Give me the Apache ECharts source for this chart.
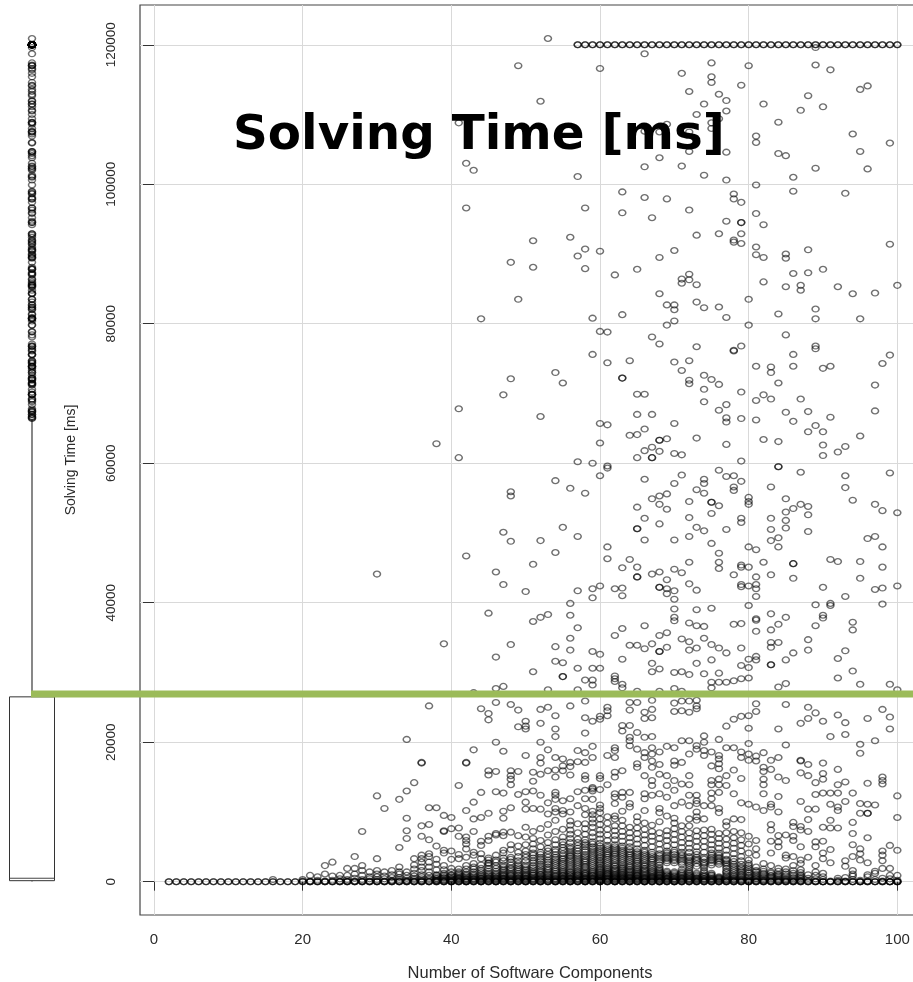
<!DOCTYPE html>
<html>
<head>
<meta charset="utf-8">
<style>
html,body{margin:0;padding:0;background:#fff;overflow:hidden;}
#chart{width:913px;height:982px;}
</style>
<script src="https://cdn.jsdelivr.net/npm/echarts@6/dist/echarts.min.js"></script>
</head>
<body>
<div id="chart"></div>
<script>
// all rows: [components, time, time, ...] with times in thousands of ms
var xTicks = [0,20,40,60,80,100];
var yTicks = [0,20000,40000,60000,80000,100000,120000];

// runs that hit the 120 s limit
var cappedX = [57,58,59,60,61,62,63,64,65,66,67,68,69,70,71,72,73,74,75,76,77,78,79,80,81,82,83,84,85,86,87,88,89,90,91,92,93,94,95,96,97,98,99,100];
// row of circles on the zero line
var zeroX = [2,3,4,5,6,7,8,9,10,11,12,13,14,15,16,17,18,19,20,21,22,23,24,25,26,27,28,29,30,31,32,33,34,35,36,37,38,39,40,41,42,43,44,45,46,47,48,49,50,51,52,53,54,55,56,57,58,59,60,61,62,63,64,65,66,67,68,69,70,71,72,73,74,75,76,77,78,79,80,81,82,83,84,85,86,87,88,89,90,91,92,93,94,95,96,97,98,99,100];

var upperRows = [
[53,120.9],[49,117],[60,116.6],[66,118.7],[52,111.9],[71,115.9],[75,117.4,115.4,114.6,108.8,108],[80,117],[72,113.3,107.5,104.7,96.3,87.1,86.3],
[76,112.9,109.4,92.9,82.4],[77,112,110.5,104.6,100.6,94.7,80.9],[79,114.2,97.4,94.5,94.5,92.9,91.5,76.8],[74,111.5,101.3,82.3],[73,110,92.7,85.6,83.1,76.7],
[89,119.6,117.1,102.3,82.1,80.7,76.8,76.4],[91,116.4],[95,113.6,104.7,80.7],[96,114.1,102.2],[88,112.7,90.6,87.3],[87,110.6,85.5,84.8],[90,111.1,87.8],
[82,111.5,94.2,89.5,86],[84,108.9,104.4,81.4],[81,106.9,106,99.9,95.8,91,89.9],[94,107.2,84.3],[99,105.9,91.4],[85,104.1,90,89.4,85.3,78.4],
[69,108.6,97.9,82.7,79.8],[68,107.5,103.8,89.5,84.3,77.1],[66,107.6,102.5,98.1],[71,102.6,86.4,85.8],[57,101.1,89.7],[86,101,99,87.2],[93,98.7],
[63,98.9,95.9,81.3],[78,98.6,97.9,92,91.7,76.2],[58,96.6,90.7,87.9],[67,95.2,78.1],[56,92.4],[51,91.9,88.1],[60,90.4,78.9],[48,88.8],[70,90.5,82.7,82,80.4],
[62,87],[65,87.8],[92,85.3],[97,84.4],[100,85.5],[49,83.5],[80,83.5,79.8],[59,80.8],[61,78.8],[44,80.7],[42,103,96.6],[43,102],[41,108.8]
];

var midRows = [
[59,75.6,60],[61,74.4,65.5],[64,74.7,64],[70,74.5,65.7,61.4],[72,74.7,71.9,71.4],[78,76.1,58.2,56.6,56.1],[86,75.6,73.9,66],[99,75.5,58.6],[98,74.3],
[81,73.9,69,66.2],[83,73.8,73,69.2],[90,73.6,64.5,62.6,61.1],[91,73.9,66.6],[84,71.5,63.1,59.5],[97,71.2,67.5],[54,73,57.5],[48,72.1,55.9,55.3],[55,71.5],
[63,72.2,72.2],[71,73.3,61.2,58.3],[74,72.6,70.6,68.8,57.7,57.1],[75,72],[76,71.3,67.6,59],[47,69.8,50.1],[65,69.9,67,64.1,60.8,53.7,50.6,50.6],[66,69.9,64.9,61.8,57.7,52.1],
[79,70.2,66.4,60.3,57.4,52.1,51.5],[82,69.8,63.4],[87,69.2,58.7,54.1],[77,68.4,66.5,65.9,62.7,58.1,50.5],[85,67.3,54.9,53,51.8,50.7],[88,67.4,64.5,53.8,52.6,50.2],
[41,67.8,60.8],[52,66.7],[67,67,62.3,60.8,60.8,54.9],[60,65.7,62.9,58.2],[89,65.4],[95,63.9],[68,63.3,63.3,61.7,55.3,54.1,51.3],[69,63.5,55.6,53.4],[73,63.6,56.2,50.8],
[38,62.8],[93,62.4,58.2,56.5],[92,61.6],[57,60.2],[61,59.6,59.3],[84,59.5],[70,57.1],[56,56.4],[58,55.7],[83,56.6,52.1,50.5],[80,55.1,54.5,54.1],[94,54.7],[72,54.5,52.2],
[75,54.4,54.4,52.8],[76,53.9],[86,53.5],[97,54.1],[98,53.2],[100,52.9],[74,55.7,50.3],[55,50.8]
];

var lowerRows = [
[48,48.8,34],[52,48.9,37.9],[57,49.5,41.7,36.4,30.6,27.5],[72,49.5,45.8,42.7,37.1,34.4,33.2,29.7],[66,49,36.7,33.4],[70,49,44.8,41.7,40.5,39.1,37.9,37.4,30,27.7],
[84,49.3,48,36.9,34.3,27.9],[83,48.9,44,38.4,36.1,34.3,33.6,31.1,31.1],[96,49.2],[97,49.5,41.9],[75,48.5,39.2,34,31.8,28.6,27.8],[98,48,45.1,42.1,39.8],[61,48,46.3],
[80,48,45.1,42.4,39.6,31.9,30.7,29.2],[81,47.6,43.7,42.6,42,40.9,37.7,37.5,35.9,32.3,31.8],[54,47.2,33.7,31.6],[76,47.1,45.8,44.9,33.5,29.9,28.6],[42,46.7],[64,46.2,33.9],
[91,46.2,39.9,39.6],[92,45.9,32,29.2],[95,45.9,43.5,28.3],[79,45.4,45.1,42.6,42.3,37,33.5,31,29.1],[82,45.8],[86,45.6,45.6,43.5,32.8],[51,45.5,37.3,30.1],[63,45,42.1,41,36.3,31.9,28.3,27.8],
[65,45.1,43.7,43.7,33.9,27.3],[71,44.3,34.8,30.1,27.3],[68,44.4,42.2,42.2,35.3,33,33,30.5,27.3],[67,44.1,34.1,31.3,30.1],[30,44.1],[46,44.4,32.2,27.7],[78,44,36.9,28.8],[69,43.3,42,41.3,35.7,33.6],
[47,42.6,28],[60,42.4,32.6,30.6],[59,42,40.7,33,30.6,28.9,28.2],[90,42.2,38.2,37.8],[100,42.4,27.5],[62,42,35.3,29.5,29.1,28.7],[73,41.8,39,36.7,33.5,31.3],[50,41.6],[93,40.9,33.1],
[56,39.9,38.2,34.9,33.2],[89,39.7,36.7],[45,38.5],[53,38.3,27.5],[85,37.9,31.8,28.4],[94,37.2,36.1,30.2],[74,36.6,34.9,29.8],[39,34.1],[88,34.7,33.2],[77,32.8,28.6],
[55,31.4,29.4,29.4],[58,28.9],[99,28.3],[43,27.1]
];

var lowColumns20to49 = [
[16,.3],[20,.1,.3],[21,0,.1,.9],[22,0,.2,.7],[23,0,.1,1.1,2.3],[24,0,.2,.8,2.8],[25,0,.1,.4,.9],[26,0,.1,.3,.9,1.9],[27,0,.1,.5,1.1,1.9,3.6],[28,0,.1,.3,.9,1.6,2.3,7.2],[29,0,.1,.4,.7,1.4],
[30,0,.1,.3,.7,1.1,1.6,3.3,12.3],[31,0,.1,.4,.8,1.4,10.5],[32,0,.1,.2,.6,1,1.6],[33,0,.1,.3,.6,1.1,1.4,2.1,4.9,11.8],[34,0,.1,.2,.5,.9,1.4,6.2,7.3,9.1,13,20.4],[35,0,.1,.3,.5,.8,1.2,1.8,2.4,3.3,14.2],
[36,0,.1,.2,.4,.7,1,1.6,2.1,2.8,3.3,3.8,6.5,8,17,17.1],[37,0,.1,.3,.5,.9,1.4,2.1,2.8,3.6,4,6,8.2,10.6,25.2],[38,0,.1,.2,.4,.7,1,1.7,2.5,3.2,5.1,10.6],[39,0,.1,.3,.5,.8,1.2,2.3,4.1,4.5,7.2,7.3,9.5],
[40,0,0,.1,.2,.4,.7,1,1.9,3.2,4.4,7.6,9.2],[41,0,.1,.2,.4,.6,1,1.4,3.3,3.9,6.5,7.7,13.8],[42,0,0,.1,.3,.5,.9,1.4,2.3,3.5,4.7,5.4,5.9,6.4,10.2,17,17.1],[43,0,.1,.2,.4,.7,1.1,1.8,2.6,3.8,4.2,7.2,9,11.4,18.9],
[44,0,0,.1,.3,.5,.8,1.3,1.9,3.3,4,5.2,5.8,9.2,12.8,24.8],[45,0,.1,.2,.4,.6,1,1.5,2.3,2.6,2.7,3.1,5.9,6.5,9.8,15.3,15.9,23.2,24.1],[46,0,0,.1,.3,.5,.8,1.2,1.9,2.8,3.8,6.7,6.9,12.9,15.8,20,25.7],
[47,0,.1,.2,.4,.6,.9,1.3,1.8,2.4,3,4.1,4.5,6.6,7.1,9.1,10.1,12.7,18.7],[48,0,0,.1,.2,.4,.7,1,1.5,2,2.8,3.5,4.6,5.3,7.1,10.6,13.9,14.7,15.2,15.9,25.4],[49,0,.1,.3,.5,.8,1.2,1.7,2.3,3,4.2,5.1,6.6,12.5,15.8,22.2,24.6]
];

var lowColumns50to69 = [
[50,0,0,.1,.2,.4,.6,.9,1.3,1.8,2.4,3.5,4.4,5.3,6.4,7.8,10.4,11.4,12.9,18.1,21.9,22.3,23],
[51,0,.1,.2,.4,.7,1,1.4,2,2.7,3.4,4.1,4.7,5.4,6.2,7.2,10.5,13,14.4,15.7],
[52,0,0,.1,.3,.5,.8,1.1,1.6,2.2,2.9,3.5,4.2,5,5.9,7.6,10.4,12.4,15.4,17,17.8,20,22.7,24.7],
[53,0,.1,.2,.3,.6,.9,1.3,1.8,2.5,3.1,3.9,4.8,5.6,6.7,8.2,9.7,11.3,15.9,18.9,25],
[54,0,0,.1,.2,.4,.7,1,1.5,2,2.6,3.2,3.9,4.6,5.3,6,7.2,8.8,10,10.5,11.8,12.4,12.8,15,16,17.8,20.8,21.9,23.8],
[55,0,.1,.2,.4,.6,.9,1.3,1.7,2.3,2.9,3.4,4,4.9,5.7,6.4,7.5,9.7,10.2,11.6,15.9,16.6,17.6],
[56,0,0,.1,.3,.5,.8,1.1,1.5,2.1,2.7,3.3,3.8,4.4,5,5.6,6.2,6.8,7.4,8.1,8.7,10,11.9,15.3,16.5,17.1,25.2],
[57,0,.1,.2,.4,.7,1,1.4,1.9,2.5,3.1,3.7,4.4,5.2,6.1,7,8.3,10.9,12.9,17.2,18.8],
[58,0,0,.1,.2,.4,.6,.9,1.2,1.7,2.2,2.8,3.3,3.9,4.6,5.3,6,6.8,7.6,8.3,9.6,10.5,11.9,13.1,14.7,15.2,17.1,18.5,21.3,23.5,25.9],
[59,0,.1,.2,.3,.5,.8,1.1,1.5,2,2.6,3.2,3.8,4.4,5,5.7,6.4,7,7.8,8.4,9,9.6,10.1,11.8,13,13.3,13.5,17.8,19.4,23],
[60,0,0,.1,.2,.3,.5,.7,1,1.3,1.7,2.1,2.6,3.1,3.6,4.2,4.8,5.5,6.1,6.8,7.4,8.2,9,9.9,10.5,11,13.2,14.8,15.2,23.3,23.7],
[61,0,.1,.2,.3,.5,.8,1.1,1.4,1.8,2.3,2.9,3.5,4,4.6,5.2,5.9,6.7,7.5,8.4,9.3,13.9,18.1,23.8,24.5,25],
[62,0,0,.1,.2,.4,.6,.8,1.1,1.5,1.9,2.4,3,3.6,4.1,4.7,5.3,6,6.6,7.3,8,9,9.4,11.2,12.1,12.6,15,15.7,17.8,18.8,19.2],
[63,0,.1,.2,.3,.5,.7,1,1.3,1.7,2.1,2.7,3.3,3.9,4.5,5.1,5.8,6.5,7.2,8,8.8,10.1,12.1,12.8,15.9,21.6,22.4],
[64,0,0,.1,.2,.4,.6,.9,1.2,1.6,2.1,2.6,3.2,3.8,4.3,5,5.6,6.3,7,7.8,10.7,11.2,12.8,19.5,20.2,20.7,22.4,24.6,25.7],
[65,0,.1,.2,.3,.5,.8,1,1.4,1.8,2.3,2.9,3.4,4,4.7,5.4,6.1,6.9,7.7,8.6,9.3,16.4,16.9,19,21.4,25.7],
[66,0,0,.1,.2,.4,.6,.9,1.3,1.7,2.2,2.7,3.3,3.9,4.5,5.2,6,6.7,7.5,8.4,10.2,11.9,12.6,15.2,17.8,18.5,20.7,23.4,24.3],
[67,0,.1,.2,.3,.5,.7,1,1.4,1.9,2.5,3.1,3.6,4.2,5,5.8,6.5,7.2,8.1,12.4,13.8,14.5,16.4,17.3,18.3,19.2,20.8,23.5,24.7,26],
[68,0,0,.1,.2,.4,.6,.9,1.2,1.6,2,2.8,3.4,4,4.6,5.4,6.2,7,8.6,9.9,10.5,12.6,15.4,16.8,18.6],
[69,0,.1,.3,.5,.8,1.1,1.5,2.7,3.3,3.8,4.4,5.1,5.9,6.6,7.3,9.4,12.1,13.8,15.2,19.4]
];

var lowColumns70to100 = [
[70,0,0,.1,.2,.4,.7,1,1.4,2.7,3.2,3.9,4.5,5.3,6,6.8,7.6,8.4,9.1,10.9,13.1,14.5,16.7,17.3,19.2,24.4,25.6],
[71,0,.1,.3,.5,.8,1.2,1.7,2.5,3.1,3.7,4.2,4.9,5.6,6.4,7.2,8,11.4,14,17.1,20.2,24.5,25.9],
[72,0,.1,.2,.4,.7,1,1.4,2,2.6,3.1,3.6,4.2,4.8,5.5,6.2,7,8,9,10.9,12.4,13.9,15.2,18.3,20.2,24.3,25.9],
[73,0,.1,.3,.5,.8,1.2,2.2,3,3.5,4.3,5,5.8,6.5,7.3,8.8,9.3,10,11.2,11.6,12.4,19,19.5,24.8,25.2,26],
[74,0,.1,.2,.5,.7,1,1.6,2.3,2.8,3.5,4.2,5,5.8,6.6,7.4,9,10.9,18.1,18.8,20,20.9],
[75,0,.1,.3,.5,.9,1.2,2.4,3,3.5,4.1,4.6,5.3,6,6.8,7.5,10.9,11.9,12.7,13.9,14.5,16.6,18.6],
[76,0,.1,.2,.4,.7,2.5,3,3.5,4.1,4.8,5.5,6.2,6.9,9.9,10.5,12.8,13.9,14.7,16.2,16.9,17.6,18.1,20.4],
[77,0,.1,.3,.6,1,1.5,2.2,2.7,3.2,3.8,4.5,5.3,6.1,7,8,8.6,13.8,15.2,19.2,22.3],
[78,0,.1,.2,.4,.8,1.3,1.9,2.5,3.3,4,4.8,5.5,6.3,7.2,9,12.6,16,19.2,23.3],
[79,0,.1,.3,.7,1.1,1.6,2.1,3,3.6,4.4,5.2,6,7,8.9,11.3,14.8,17.8,18.6,23.7],
[80,0,0,.2,.5,.9,1.4,2,2.6,3.1,4.1,5.4,6.5,11.1,17.4,18.3,19.8,22,23.8],
[81,0,.1,.4,.7,1.1,1.6,2.1,3.8,4.7,5.9,10.7,17.3,18,24.4,25.5],
[82,0,.1,.3,.7,1.2,1.8,2.6,10.2,12.6,13.9,14.7,15.8,16.4,18.5],
[83,0,.2,.6,.9,1.4,2.3,4.1,5.8,7.4,8.2,10.7,11.1,16.1,17.4],
[84,0,.1,.3,.7,1.1,1.9,5,5.7,6.6,10,12.2,15,17.8,21.9],
[85,0,.2,.5,1.1,1.8,3.4,3.8,6.7,14.5,19.6,25.4],
[86,0,.1,.4,.9,1.6,2.3,3.6,5.9,6.5,7.9,8.5],
[87,0,.2,.6,1,1.7,2.6,3.1,5,7.4,7.9,11.5,15.6,17.3,17.4,22.7],
[88,0,.2,.5,1,3.5,7.2,8.9,10.4,15.2,16.8,23.4,25],
[89,0,.1,.4,.9,1.4,2.3,5,5.7,10.4,12.5,14.2,24.2],
[90,0,0,.3,.7,1.2,3.3,4.1,5.8,7.8,12.7,14.7,15.5,17,23],
[91,0,.1,2.7,4.6,7.7,8.8,11.1,12.7,20.8],
[92,0,.2,.5,7.7,10.2,10.7,12.7,13.9,16.1,23.9],
[93,0,.1,.6,2.2,3,11.5,14.3,21.1,22.8],
[94,0,.3,.8,1.1,1.6,3.6,5.3,6.9,8.5,12.7],
[95,0,0,.2,3.1,4,4.7,9.8,11.2,18.4,19.7],
[96,0,.1,.7,1,2.7,6.3,9.8,9.8,11.1,14.1,23.4],
[97,0,.3,1.2,1.5,11,20.2],
[98,0,.1,.5,1.9,3,3.8,4.4,14,14.5,15,24.7],
[99,0,0,.4,.9,1.9,5.2,21.9,23.6],
[100,0,0,.2,.9,4.5,9.2,12.3]
];

// the near-black band just above the zero line
var denseBandRows = [
[38,.2,.5,.9],[39,.2,.6,1,1.7],[40,.3,.5,.9,1.4],[41,.3,.5,.8,1.2,1.8],[42,.2,.4,.7,1.1,1.8],[43,.3,.5,.9,1.4,2.1],[44,.2,.4,.6,1,1.6,2.4],[45,.3,.5,.8,1.2,1.9,3.4],
[46,.2,.4,.6,1,1.5,2.3,3.1],[47,.3,.5,.8,1.1,1.6,2.1,3.4],[48,.3,.5,.9,1.2,1.8,2.4,3.2],[49,.2,.4,.6,1,1.5,2,2.6,3.6],[50,.3,.5,.8,1.1,1.6,2.1,3,3.9],[51,.3,.5,.9,1.2,1.7,2.3,3,3.8],
[52,.2,.4,.6,1,1.4,1.9,2.5,3.2,3.9],[53,.4,.7,1.1,1.6,2.1,2.8,3.5,4.4],[54,.3,.5,.8,1.2,1.7,2.3,2.9,3.5,4.3],[55,.3,.5,.8,1.1,1.5,2,2.6,3.2,3.7,4.5,5.3],[56,.2,.4,.6,.9,1.3,1.8,2.4,3,3.6,4.1,4.7],
[57,.3,.5,.9,1.2,1.6,2.2,2.8,3.4,4,4.8,5.6],[58,.3,.5,.8,1.1,1.4,2,2.5,3,3.6,4.3,5,5.6],[59,.4,.6,.9,1.3,1.7,2.3,2.9,3.5,4.1,4.7,5.4],[60,.2,.4,.6,.8,1.1,1.5,1.9,2.4,2.9,3.4,3.9,4.5,5.1],
[61,.4,.6,.9,1.2,1.6,2,2.6,3.2,3.8,4.3,4.9],[62,.3,.5,.7,1,1.3,1.7,2.2,2.7,3.3,3.9,4.4,5],[63,.4,.6,.8,1.1,1.5,1.9,2.4,3,3.6,4.2,4.8],[64,.3,.5,.7,1,1.4,1.8,2.3,2.9,3.5,4,4.6],
[65,.4,.6,.9,1.2,1.6,2,2.6,3.1,3.7,4.3],[66,.3,.5,.7,1.1,1.5,1.9,2.4,3,3.6,4.2],[67,.4,.6,.8,1.2,1.6,2.2,2.8,3.3,3.9],[68,.3,.5,.7,1,1.4,1.8,2.4,3.1,3.7],[69,.2,.4,.6,.9,1.3,3,3.5,4.1],
[70,.3,.5,.8,1.2,3,3.5,4.2],[71,.2,.4,.6,1,1.4,2.8,3.4,3.9],[72,.3,.5,.8,1.2,1.7,2.3,2.9,3.4],[73,.2,.4,.6,1,2.6,3.2,3.9],[74,.3,.4,.8,1.3,2,2.6,3.2],[75,.2,.4,.7,1,2.7,3.2,3.8],
[76,.3,.5,.6,2.8,3.3,3.8],[77,.2,.4,.8,1.3,1.9,2.5,3],[78,.3,.6,1,1.6,2.2,2.9],[79,.2,.5,.9,1.4,1.9,2.5],[80,.1,.3,.7,1.2,1.7,2.3],[81,.2,.5,.9,1.4],[82,.2,.5,1,1.5],[83,.1,.4,.8,1.2],
[84,.2,.5,.9,1.5],[85,.1,.3,.8,1.4],[86,.2,.6,1.2],[87,.1,.4,.8,1.3]
];

// box of the marginal plot, in thousands of ms
var boxLow = 0, boxQ1 = 0.14, boxMedian = 0.49, boxQ3 = 26.5, boxHigh = 66.3;
var thresholdTime = 26900;

var points = [];
var outliers = [];
function addPoint(x,t){
	points.push([x,t*1000]);
	if(t>boxHigh){
		outliers.push([0.5,t*1000]);
	}
}
function addRows(rows){
	for (var i = 0; i < rows.length; i++) {
		for (var j = 1; j < rows[i].length; j++) {
			addPoint(rows[i][0],rows[i][j]);
		}
	}
}
for (var i = 0; i < cappedX.length; i++) { addPoint(cappedX[i],120); addPoint(cappedX[i],120); }
for (var i = 0; i < zeroX.length; i++) { addPoint(zeroX[i],0); addPoint(zeroX[i],0); }
addRows(upperRows);
addRows(midRows);
addRows(lowerRows);
addRows(lowColumns20to49);
addRows(lowColumns50to69);
addRows(lowColumns70to100);
addRows(denseBandRows);

var yMin = -4780, yMax = 125700;
var font = "'Liberation Sans'";
var textColor = "#2b2b2b";
var ringStyle = {
	color: "rgba(0,0,0,0)",
	borderColor: "rgba(0,0,0,0.7)",
	borderWidth: 1.4
};
var ringSize = [7,5.8];
var gridBox = {top:5,height:910};

function hiddenX(i){
	return {gridIndex:i,type:"value",min:0,max:1,show:false};
}
function hiddenY(i){
	return {gridIndex:i,type:"value",min:yMin,max:yMax,show:false};
}
function plainNumber(v){
	return String(v);
}

var myChart = echarts.init(document.getElementById("chart"));
var option = {
	animation: false,
	backgroundColor: "#fff",
	title: {
		text: "Solving Time [ms]",
		left: 228,
		top: 107,
		z: 20,
		textStyle: {fontFamily:"'DejaVu Sans'",fontWeight:"bold",fontSize:48.4,color:"#000"}
	},
	grid: [
		{left:140,top:gridBox.top,width:780,height:gridBox.height,outerBoundsMode:"none",show:true,borderColor:"#444",borderWidth:1.2,backgroundColor:"#fff"},
		{left:9.5,top:gridBox.top,width:45,height:gridBox.height,outerBoundsMode:"none"},
		{left:31,top:gridBox.top,width:882,height:gridBox.height,outerBoundsMode:"none"}
	],
	xAxis: [
		{
			gridIndex: 0,
			type: "value",
			min: -1.883,
			max: 103.05,
			name: "Number of Software Components",
			nameLocation: "middle",
			nameGap: 50,
			nameMoveOverlap: false,
			nameTextStyle: {fontFamily:font,fontSize:16.5,color:textColor},
			axisLine: {show:false},
			axisTick: {length:9,customValues:xTicks,lineStyle:{color:"#333"}},
			axisLabel: {customValues:xTicks,fontFamily:font,fontSize:15,color:textColor,margin:17,formatter:plainNumber},
			splitLine: {show:true,lineStyle:{color:"#d9d9d9",width:1}}
		},
		hiddenX(1),
		hiddenX(2)
	],
	yAxis: [
		{
			gridIndex: 0,
			type: "value",
			min: yMin,
			max: yMax,
			name: "Solving Time [ms]",
			nameLocation: "middle",
			nameGap: 62,
			nameMoveOverlap: false,
			nameRotate: 90,
			nameTextStyle: {fontFamily:font,fontSize:14,color:textColor},
			axisLine: {show:false},
			axisTick: {length:11,customValues:yTicks,lineStyle:{color:"#333"}},
			axisLabel: {customValues:yTicks,rotate:90,fontFamily:font,fontSize:13.5,color:textColor,margin:22,formatter:plainNumber},
			splitLine: {show:true,lineStyle:{color:"#d9d9d9",width:1}}
		},
		hiddenY(1),
		hiddenY(2)
	],
	series: [
		{
			type: "scatter",
			xAxisIndex: 0,
			yAxisIndex: 0,
			data: points,
			symbol: "circle",
			symbolSize: ringSize,
			itemStyle: ringStyle,
			progressive: 0,
			silent: true,
			z: 2
		},
		{
			type: "scatter",
			xAxisIndex: 1,
			yAxisIndex: 1,
			data: outliers,
			symbol: "circle",
			symbolSize: ringSize,
			itemStyle: ringStyle,
			progressive: 0,
			silent: true,
			z: 2
		},
		{
			type: "custom",
			xAxisIndex: 1,
			yAxisIndex: 1,
			data: [[0.5,boxLow*1000,boxQ1*1000,boxMedian*1000,boxQ3*1000,boxHigh*1000]],
			encode: {x:0,y:[1,2,3,4,5]},
			silent: true,
			z: 2,
			renderItem: function(params,api){
				var left = api.coord([0,api.value(3)])[0];
				var right = api.coord([1,api.value(3)])[0];
				var mid = api.coord([api.value(0),0])[0];
				var yLow = api.coord([0,api.value(1)])[1];
				var yQ1 = api.coord([0,api.value(2)])[1];
				var yMed = api.coord([0,api.value(3)])[1];
				var yQ3 = api.coord([0,api.value(4)])[1];
				var yHigh = api.coord([0,api.value(5)])[1];
				return {
					type: "group",
					children: [
						{type:"line",shape:{x1:mid,y1:yQ3,x2:mid,y2:yHigh},style:{stroke:"#555",lineWidth:1.4}},
						{type:"line",shape:{x1:mid,y1:yQ1,x2:mid,y2:yLow},style:{stroke:"#555",lineWidth:1}},
						{type:"rect",shape:{x:left,y:yQ3,width:right-left,height:yQ1-yQ3},style:{fill:"none",stroke:"#333",lineWidth:1}},
						{type:"line",shape:{x1:left,y1:yMed,x2:right,y2:yMed},style:{stroke:"#444",lineWidth:1}}
					]
				};
			}
		},
		{
			type: "line",
			xAxisIndex: 2,
			yAxisIndex: 2,
			data: [[0,thresholdTime],[1,thresholdTime]],
			symbol: "none",
			silent: true,
			lineStyle: {color:"#9BBB59",width:7,cap:"butt"},
			z: 5
		}
	]
};
myChart.setOption(option);
</script>
</body>
</html>
